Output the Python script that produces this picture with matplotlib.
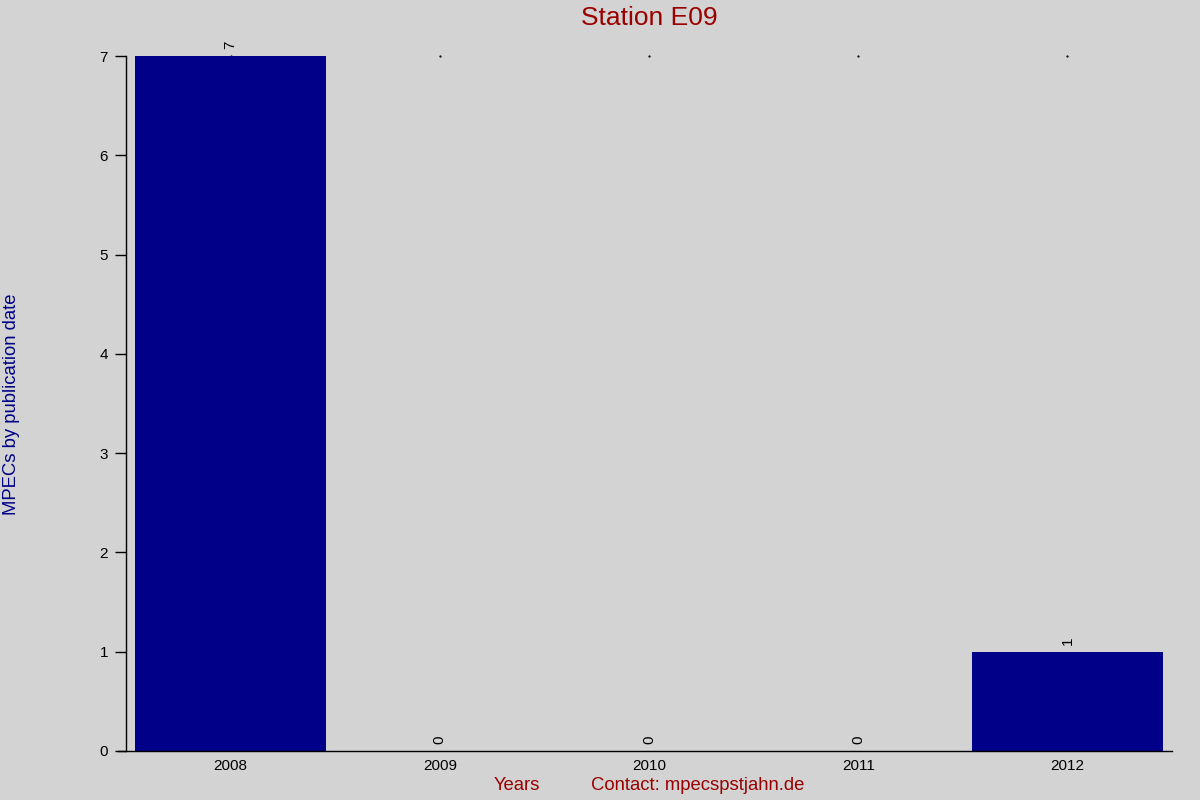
import matplotlib
matplotlib.use("Agg")
import matplotlib.pyplot as plt

years = ["2008", "2009", "2010", "2011", "2012"]
counts = [7, 0, 0, 0, 1]
yticks = [0, 1, 2, 3, 4, 5, 6, 7]

plt.rcParams['font.family'] = ['Liberation Sans', 'DejaVu Sans']

BG = "#d3d3d3"
BAR = "#000088"
RED = "#990000"

fig = plt.figure(figsize=(12, 8), dpi=100, facecolor=BG)
ax = fig.add_axes([126/1200, 1-751/800, (1172-126)/1200, (751-56)/800])
ax.set_facecolor(BG)

x = list(range(len(years)))
ymax = max(counts)
ax.plot(x, [ymax] * len(x), linestyle='none', marker='.', markersize=1.2,
        color='black', zorder=1, clip_on=False)
ax.bar(x, counts, width=0.91, color=BAR, zorder=2)
for xi, c in zip(x, counts):
    ax.text(xi, c + 0.07, str(c), rotation=90, ha='center', va='bottom',
            fontsize=11, color='black')

ax.set_xlim(-0.5, 4.5)
ax.set_ylim(0, 7)
ax.set_xticks(x)
ax.set_xticklabels(years, fontsize=11)
ax.set_yticks(yticks)
ax.set_yticklabels([str(v) for v in yticks], fontsize=11)
ax.tick_params(axis='x', length=0, pad=6)
ax.tick_params(axis='y', length=8, width=1, direction='out', pad=5)
for s in ['top', 'right']:
    ax.spines[s].set_visible(False)
ax.spines['left'].set_linewidth(1)
ax.spines['bottom'].set_linewidth(1)
ax.spines['bottom'].set_bounds(-0.5 - 8/209, 4.5)

fig.text(649/1200, 1-18/800, "Station E09", ha='center', va='center', fontsize=19, color=RED)
fig.text(12/1200, 1-404/800, "MPECs by publication date", rotation=90, ha='center', va='center',
         fontsize=13.3, color=BAR)
fig.text(517/1200, 1-786/800, "Years", ha='center', va='center', fontsize=13.3, color=RED)
fig.text(698/1200, 1-786/800, "Contact: mpecspstjahn.de", ha='center', va='center', fontsize=13.3, color=RED)

fig.savefig("out.png", dpi=100, facecolor=BG)
